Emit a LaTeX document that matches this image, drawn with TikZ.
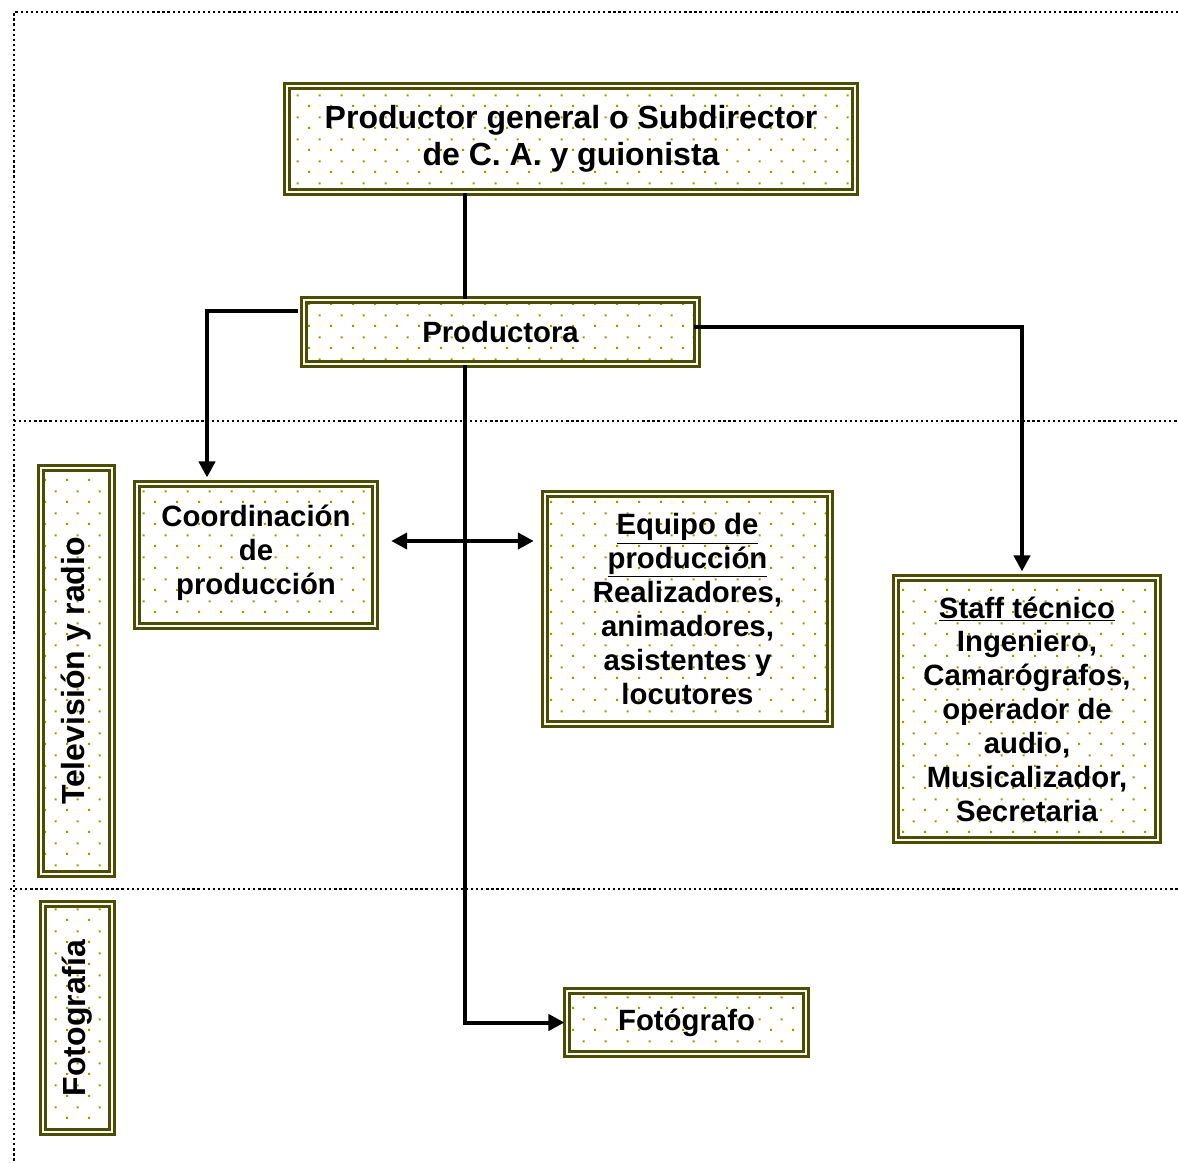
\documentclass[tikz,border=0pt]{standalone}
\usepackage{fontspec}
\setmainfont{Liberation Sans}
\usepackage{graphicx}
\usetikzlibrary{arrows.meta,patterns,positioning}
\definecolor{boxline}{RGB}{77,77,0}
\definecolor{dotcol}{RGB}{153,153,0}
\pgfdeclarepatternformonly{olivedots}{\pgfpointorigin}{\pgfpoint{16.5pt}{16.5pt}}{\pgfpoint{16.5pt}{16.5pt}}
{
    \pgfpathrectangle{\pgfpoint{0pt}{0pt}}{\pgfpoint{1.6pt}{1.6pt}}
    \pgfpathrectangle{\pgfpoint{8.25pt}{8.25pt}}{\pgfpoint{1.6pt}{1.6pt}}
    \pgfusepath{fill}
}
\tikzset
{
    orgbox/.style   = {rectangle, draw=boxline, line width=1.8pt, double=white, double distance=1.9pt, pattern=olivedots, pattern color=dotcol, align=center, inner sep=2pt, font=\bfseries\fontsize{22}{25.4}\selectfont},
    bigbox/.style   = {orgbox, font=\bfseries\fontsize{24}{27.7}\selectfont},
    frameline/.style= {line width=1.7pt, dash pattern=on 1.7pt off 2.1pt},
    link/.style     = {line width=3pt},
    arrow/.style    = {link, -{Triangle[length=12pt,width=12pt]}, shorten >=4pt},
    dblarrow/.style = {link, {Triangle[length=12pt,width=12pt]}-{Triangle[length=12pt,width=12pt]}}
}

\begin{document}
\begin{tikzpicture}[x=0.75pt, y=-0.75pt]
\useasboundingbox (0,0) rectangle (1178,1163);
\newcommand\trunkX{465}
% dotted frame
\draw[frameline] (1178,12) -- (14,12) -- (14,1163);
\draw[frameline] (14,421) -- (1178,421);
\draw[frameline] (10,889) -- (1178,889);
\coordinate (trunk) at (\trunkX,0);
\node(gen) [bigbox, minimum width=426pt, minimum height=79.5pt] at (571,139) {Productor general o Subdirector\\de C. A. y guionista};
\node(prod) [orgbox, minimum width=294.75pt, minimum height=48pt] at (500.5,332) {Productora};
\node(coord) [orgbox, minimum width=178.5pt, minimum height=106.5pt, text depth=8pt] at (256,555) {Coordinación\\de\\producción};
\node(equipo) [orgbox, minimum width=213.75pt, minimum height=172.5pt] at (687.5,609) {\underline{Equipo de}\\\underline{producción}\\Realizadores,\\animadores,\\asistentes y\\locutores};
\node(staff) [orgbox, minimum width=196.5pt, minimum height=196.5pt] at (1027,709) {\underline{Staff técnico}\\Ingeniero,\\Camarógrafos,\\operador de\\audio,\\Musicalizador,\\Secretaria};
\node(tv) [bigbox, minimum width=53.25pt, minimum height=304.5pt] at (76.5,671) {\rotatebox{90}{Televisión y radio}};
\node(foto) [bigbox, minimum width=51.75pt, minimum height=171pt] at (77.5,1018) {\rotatebox{90}{Fotografía}};
\node(fotog) [orgbox, minimum width=179.25pt, minimum height=47.25pt] at (686.5,1022.5) {Fotógrafo};
\coordinate (dblL) at ([shift={(15,-14)}]coord.east);
\draw[link] (gen.south -| trunk) -- (prod.north -| trunk);
\draw[arrow] ([shift={(-5,-21)}]prod.west) -| ([shift={(-49,0)}]coord.north);
\draw[arrow] ([shift={(-4,-5)}]prod.east) -| ([shift={(-5,0)}]staff.north);
\draw[arrow, shorten >=1pt] (prod.south -| trunk) |- (fotog.west);
\draw[dblarrow, shorten >=7.5pt] (dblL) -- (dblL -| equipo.west);
\end{tikzpicture}
\end{document}
